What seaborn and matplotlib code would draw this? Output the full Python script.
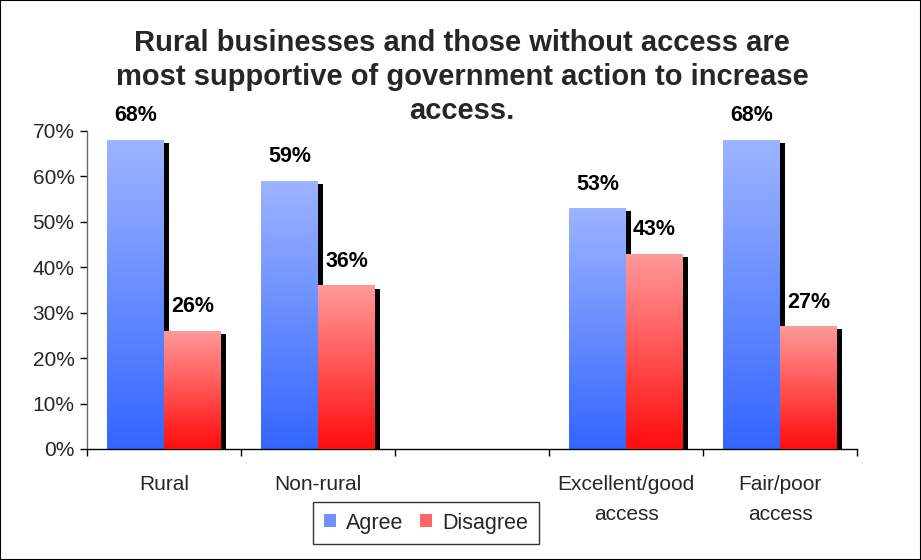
import numpy as np
import pandas as pd
import matplotlib
matplotlib.use("Agg")
import matplotlib.pyplot as plt
import matplotlib.patheffects as pe
from matplotlib.colors import LinearSegmentedColormap
from matplotlib.patches import Rectangle, Patch
import seaborn as sns

categories = ["Rural", "Non-rural", "", "Excellent/good\naccess", "Fair/poor\naccess"]
agree = [0.68, 0.59, np.nan, 0.53, 0.68]
disagree = [0.26, 0.36, np.nan, 0.43, 0.27]
series = ["Agree", "Disagree"]
yticks = [0.0, 0.1, 0.2, 0.3, 0.4, 0.5, 0.6, 0.7]
title_lines = ["Rural businesses and those without access are",
               "most supportive of government action to increase",
               "access."]

sns.set_theme(style="white")
plt.rcParams["font.family"] = ["Liberation Sans", "DejaVu Sans"]

df = pd.DataFrame({
    "category": categories * 2,
    "series": [series[0]] * len(categories) + [series[1]] * len(categories),
    "value": agree + disagree,
})

fig = plt.figure(figsize=(9.21, 5.60), dpi=100)
ax = fig.add_axes([87 / 921, 1 - 449 / 560, 770 / 921, 318 / 560])

palette = {"Agree": "#6f8fff", "Disagree": "#ff6666"}
sns.barplot(data=df, x="category", y="value", hue="series", order=categories,
            hue_order=series, palette=palette, width=0.74, ax=ax,
            legend=False, saturation=1, linewidth=0)

gradients = {
    "Agree": LinearSegmentedColormap.from_list("ag", ["#3366ff", "#9db4ff"]),
    "Disagree": LinearSegmentedColormap.from_list("dg", ["#ff0d0d", "#ff9a9a"]),
}
grad = np.linspace(0, 1, 256).reshape(-1, 1)

for i, (name, cont) in enumerate(zip(series, ax.containers)):
    for bar, val in zip(cont.patches, cont.datavalues):
        if np.isnan(val) or bar.get_height() == 0:
            bar.set_visible(False)
            continue
        x0, w, h = bar.get_x(), bar.get_width(), bar.get_height()
        bar.set_zorder(2 + i)
        bar.set_path_effects([pe.SimplePatchShadow(offset=(3.6, -2.2),
                                                   shadow_rgbFace="black",
                                                   alpha=1.0),
                              pe.Normal()])
        im = ax.imshow(grad, cmap=gradients[name], origin="lower",
                       extent=[x0, x0 + w, 0, h], aspect="auto",
                       zorder=2.5 + i, interpolation="bilinear")
        im.set_clip_path(bar)
        ax.text(x0 + w / 2, val + 0.03, f"{val * 100:.0f}%", ha="center",
                va="bottom", fontsize=15.5, fontweight="bold", color="black",
                zorder=6)

n = len(categories)
ax.set_xlim(-0.5, n - 0.5)
ax.set_ylim(0, 0.7)
ax.set_yticks(yticks)
ax.set_yticklabels([f"{t * 100:.0f}%" for t in yticks], fontsize=15)

ax.set_xticks(np.arange(n + 1) - 0.5)
ax.set_xticklabels([])
ax.set_xticks(np.arange(n), minor=True)
ax.set_xticklabels(categories, minor=True, fontsize=15, linespacing=1.7)
ax.tick_params(axis="x", which="major", direction="out", length=5, width=1,
               color="black", bottom=True)
ax.tick_params(axis="x", which="minor", length=0, pad=19)
ax.tick_params(axis="y", direction="out", length=5, width=1, color="black",
               left=True, labelsize=15, pad=4)
ax.set_xlabel("")
ax.set_ylabel("")

for side in ["top", "right"]:
    ax.spines[side].set_visible(False)
ax.spines["left"].set_color("#666666")
ax.spines["bottom"].set_color("black")
for side in ["left", "bottom"]:
    ax.spines[side].set_linewidth(1)

# Title, one line per text so each keeps its own tight box
for k, line in enumerate(title_lines):
    fig.text(462 / 921, 1 - (43 + 34 * k) / 560, line, ha="center",
             va="center", fontsize=21, fontweight="bold")

handles = [Patch(facecolor="#6f8fff", edgecolor="none", label="Agree"),
           Patch(facecolor="#ff6666", edgecolor="none", label="Disagree")]
leg = fig.legend(handles=handles, loc="center", bbox_to_anchor=(426 / 921, 1 - 523 / 560),
                 ncol=2, frameon=True, fontsize=15.5, handlelength=0.55,
                 handleheight=0.55, handletextpad=0.45, columnspacing=0.8,
                 borderpad=0.5, fancybox=False)
leg.get_frame().set_edgecolor("black")
leg.get_frame().set_linewidth(1)

fig.patches.append(Rectangle((0, 0), 1, 1, transform=fig.transFigure,
                             fill=False, edgecolor="black", linewidth=1.5))

fig.savefig("out.png", dpi=100)
